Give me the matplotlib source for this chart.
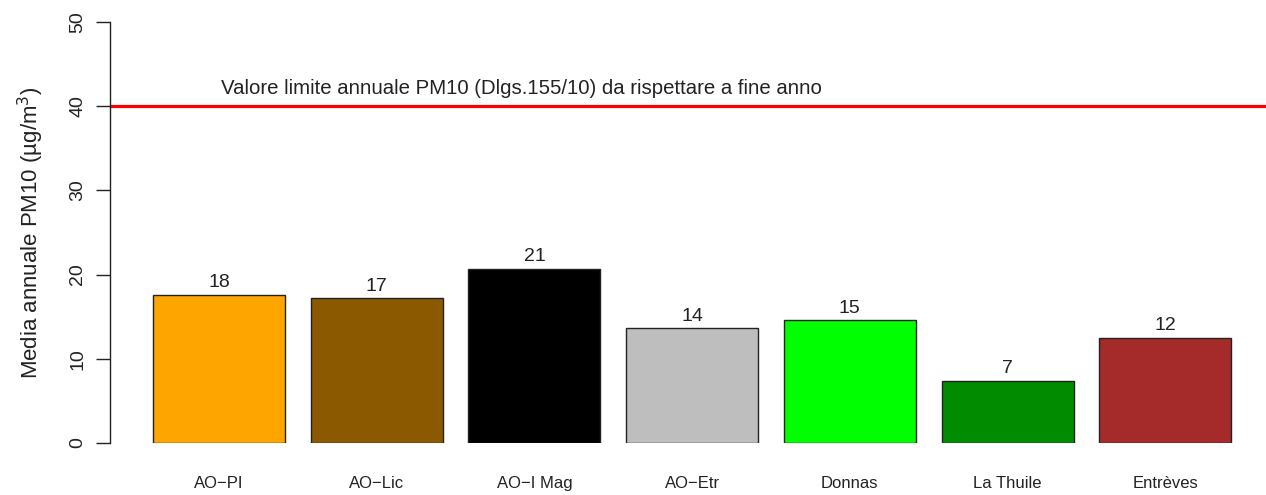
import matplotlib
matplotlib.use("Agg")
import matplotlib.pyplot as plt
import numpy as np

# --------------------------- Data ---------------------------
stations = ["AO\u2212PI", "AO\u2212Lic", "AO\u2212I Mag", "AO\u2212Etr", "Donnas", "La Thuile", "Entrèves"]
pm10_mean = [17.6, 17.2, 20.7, 13.6, 14.6, 7.4, 12.5]
bar_colors = ["#FFA500", "#8B5A00", "#000000", "#BEBEBE", "#00FF00", "#008B00", "#A52A2A"]
limit_value = 40
limit_text = "Valore limite annuale PM10 (Dlgs.155/10) da rispettare a fine anno"
y_ticks = [0, 10, 20, 30, 40, 50]

# --------------------------- Setup ---------------------------
plt.rcParams["font.family"] = ["Liberation Sans", "DejaVu Sans"]
plt.rcParams["font.size"] = 12

fig = plt.figure(figsize=(12.66, 4.95), dpi=100)
# axes placed to mimic the R plot region
ax = fig.add_axes([110 / 1266, 52 / 495, 1156 / 1266, 421 / 495])

x = np.arange(len(stations))
ax.bar(x, pm10_mean, width=0.837, color=bar_colors, edgecolor="#222222", linewidth=1.0)

# value labels on top of bars
for xi, v in zip(x, pm10_mean):
    ax.text(xi, v + 0.4, f"{round(v):d}", ha="center", va="bottom", fontsize=14, color="#222222")

ax.axhline(limit_value, color="#FF0000", linewidth=2.3)
ax.text(0.01, limit_value + 1.0, limit_text, ha="left", va="bottom", fontsize=14.7, color="#222222")

ax.set_xlim(-0.691, 6.639)
ax.set_ylim(0, 50)

ax.set_yticks(y_ticks)
ax.set_yticklabels([str(t) for t in y_ticks], rotation=90, va="center", fontsize=14, color="#222222")
ax.tick_params(axis="y", length=10, width=1.0, pad=7, color="#222222")

ax.set_xticks(x)
ax.set_xticklabels(stations, fontsize=12, color="#222222")
ax.tick_params(axis="x", length=0, pad=24)

ax.set_ylabel("Media annuale PM10 (µg/m$^3$)", fontsize=16, color="#222222", labelpad=17)

for side in ["top", "right", "bottom"]:
    ax.spines[side].set_visible(False)
ax.spines["left"].set_color("#222222")
ax.spines["left"].set_linewidth(1.0)

fig.savefig("out.png", dpi=100)
